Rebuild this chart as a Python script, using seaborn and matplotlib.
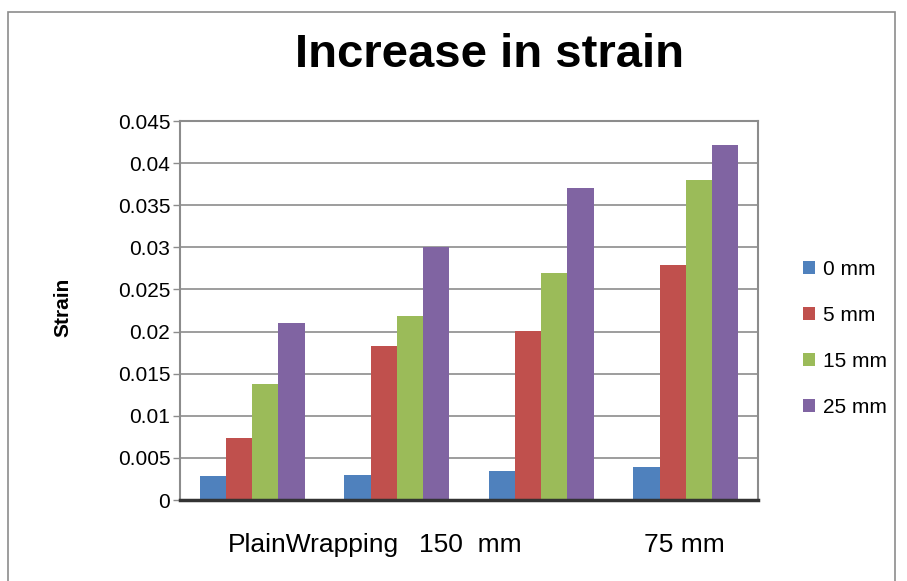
import pandas as pd
import matplotlib.pyplot as plt
import seaborn as sns
from matplotlib.patches import Rectangle

# ------------------------------
# Data
# ------------------------------
groups = ["Plain", "Wrapping", "150 mm", "75 mm"]
series = ["0 mm", "5 mm", "15 mm", "25 mm"]
strain_0mm = [0.0028, 0.0030, 0.0035, 0.0039]
strain_5mm = [0.0074, 0.0183, 0.0201, 0.0279]
strain_15mm = [0.0138, 0.0219, 0.0269, 0.0380]
strain_25mm = [0.0210, 0.0300, 0.0370, 0.0421]
y_ticks = [0, 0.005, 0.01, 0.015, 0.02, 0.025, 0.03, 0.035, 0.04, 0.045]
y_tick_labels = ["0", "0.005", "0.01", "0.015", "0.02", "0.025", "0.03", "0.035", "0.04", "0.045"]

colors = ["#4F81BD", "#C0504D", "#9BBB59", "#8064A2"]

rows = []
for name, vals in zip(series, [strain_0mm, strain_5mm, strain_15mm, strain_25mm]):
    for g, v in zip(groups, vals):
        rows.append({"group": g, "series": name, "strain": v})
df = pd.DataFrame(rows)

# ------------------------------
# Plot
# ------------------------------
sns.set_theme(style="white")
plt.rcParams['font.family'] = ['Liberation Sans', 'DejaVu Sans']
plt.rcParams['text.color'] = 'black'

fig = plt.figure(figsize=(9.07, 5.81), dpi=100)
ax = fig.add_axes([0.1985, 0.1394, 0.6372, 0.6523])

sns.barplot(data=df, x="group", y="strain", hue="series", palette=colors,
            width=0.724, gap=0, saturation=1, linewidth=0, ax=ax, legend=True)

ax.set_xlim(-0.5, 3.5)
ax.set_ylim(0, 0.045)
ax.set_yticks(y_ticks)
ax.set_yticklabels(y_tick_labels, fontsize=15)
ax.yaxis.grid(True, color="#8c8c8c", linewidth=1.2)
ax.set_axisbelow(True)
ax.tick_params(axis="y", length=5, width=1, color="#8c8c8c", labelcolor="black",
               left=True, pad=2)

# category labels sit oddly in the original, place them the same way
ax.set_xticks([0.424, 1.507, 2.99])
ax.set_xticklabels(["PlainWrapping", "150  mm", "75 mm"], fontsize=19)
ax.tick_params(axis="x", length=0, pad=24, labelcolor="black")

for s in ["left", "top", "right"]:
    ax.spines[s].set_color("#8c8c8c")
    ax.spines[s].set_linewidth(1.5)
ax.spines["bottom"].set_color("#333333")
ax.spines["bottom"].set_linewidth(2.5)

ax.set_xlabel("")
ax.set_ylabel("")
fig.text(63 / 907, 1 - 307 / 581, "Strain", rotation=90, ha="center", va="center",
         fontsize=15, fontweight="bold")

fig.text(0.54, 0.905, "Increase in strain", ha="center", va="center",
         fontsize=34, fontweight="bold")

leg = ax.legend(loc="center left", bbox_to_anchor=(1.045, 0.427), frameon=False,
                fontsize=15, handlelength=0.6, handleheight=0.6,
                handletextpad=0.35, labelspacing=1.3)

# outer border of the chart area
fig.patches.append(Rectangle((0.009, -0.01), 0.978, 0.99, transform=fig.transFigure,
                             fill=False, edgecolor="#8c8c8c", linewidth=1.2))

plt.savefig("out.png", dpi=100)
